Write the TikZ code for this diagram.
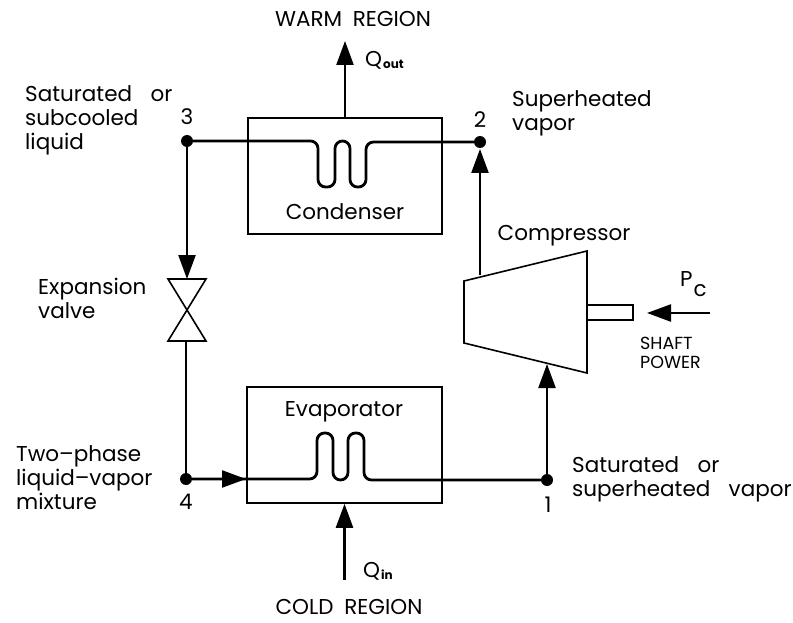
\documentclass[tikz,border=0pt]{standalone}
\usepackage{fontspec}
\setmainfont{Poppins}[WordSpace=3.2]
\usetikzlibrary{arrows.meta, positioning}

\begin{document}
\begin{tikzpicture}[x=1pt, y=-1pt, font=\fontsize{21.5}{24}\selectfont]

  % Define styles
  \tikzset{
    unitbox/.style={draw=black, line width=1.6pt, fill=white},
    pipe/.style={draw=black, line width=2.8pt, rounded corners=7.5pt},
    thinpipe/.style={draw=black, line width=2.4pt},
    flow/.style={-{Triangle[length=24pt,width=17pt]}, draw=black, line width=2.4pt},
    statepoint/.style={circle, fill=black, inner sep=0pt, minimum size=12pt},
    note/.style={align=left, anchor=north west, inner sep=0pt},
    title/.style={inner sep=0pt, anchor=center}
  }

  \useasboundingbox (0,0) rectangle (793,623);
  \fill[white] (0,0) rectangle (793,623);

  %% Boxes
  \node[unitbox, minimum width=194pt, minimum height=116pt, inner sep=0pt] (condbox) at (345,176) {};
  \node[unitbox, minimum width=195pt, minimum height=116pt, inner sep=0pt] (evapbox) at (344.5,445) {};

  %% State points
  \node[statepoint] (pt3) at (187,141) {};
  \node[statepoint] (pt2) at (480,142) {};
  \node[statepoint] (pt4) at (186,479) {};
  \node[statepoint] (pt1) at (547,480) {};

  %% Compressor
  \draw[unitbox] (464,281) -- (587,251) -- (587,373) -- (464,343) -- cycle;
  \draw[unitbox] (587,305) rectangle (633,320);
  \coordinate (compIn) at (547,364);
  \coordinate (compOut) at (480,275);

  %% Valve
  \draw[unitbox] (168,279) -- (206,279) -- (168,341) -- (206,341) -- cycle;
  \coordinate (valveTop) at (187,279);
  \coordinate (valveBot) at (186,341);

  %% Condenser coil
  \draw[pipe] (pt3) -- (318,141) -- (318,187) -- (335,187) -- (335,141)
    -- (350,141) -- (350,187) -- (366,187) -- (366,142) -- (pt2);

  %% Evaporator coil
  \draw[pipe] (pt4) -- (317,479) -- (317,433) -- (333,433) -- (333,480)
    -- (348,480) -- (348,433) -- (364,433) -- (364,480) -- (pt1);

  %% Flow arrows
  \draw[flow] (pt3) -- (valveTop);
  \draw[thinpipe] (valveBot) -- (pt4);
  \draw[flow] (compOut) -- (480,149);
  \draw[flow] (pt1) -- (compIn);
  \draw[flow] (pt4) -- (246,479);
  \draw[flow] (condbox.north) -- (345,41);

  \coordinate (qinStart) at (344.5,580);
  \draw[flow] (qinStart) -- (evapbox.south);
  \coordinate (pcStart) at (710,313);
  \draw[flow] (pcStart) -- (647,313);

  %% Labels
  \node[title] (warm) at (353,19) {WARM\hspace{0.5em}REGION};
  \node[title] (cold) at (349,607) {COLD\hspace{0.5em}REGION};
  \node[title, anchor=west] (qout) at (365,60) {Q\raisebox{-2pt}{\kern1pt\fontsize{12}{12}\selectfont\bfseries out}};
  \node[title, anchor=west] (qin) at (363,571) {Q\raisebox{-2pt}{\kern1pt\fontsize{12}{12}\selectfont\bfseries in}};
  \node[title] (cond) at (345,212) {Condenser};
  \node[title] (evap) at (344,412) {Evaporator};
  \node[title] (comp) at (564,236) {Compressor};
  \node[title, anchor=west] (pc) at (680,284) {P\raisebox{-10pt}{\kern1pt c}};
  \node[note, font=\fontsize{17.5}{19}\selectfont] (shaft) at (640,337) {SHAFT\\POWER};

  \node[title] (lab3) at (187,117) {3};
  \node[title] (lab2) at (480,120) {2};
  \node[title] (lab4) at (186,502) {4};
  \node[title] (lab1) at (548,505) {1};

  \node[note] (note3) at (25,85) {Saturated or\\subcooled\\liquid};
  \node[note] (note2) at (512,90) {Superheated\\vapor};
  \node[note] (notev) at (38,278) {Expansion\\valve};
  \node[note] (note4) at (16,445) {Two--phase\\liquid--vapor\\mixture};
  \node[note] (note1) at (572,456) {Saturated or\\superheated vapor};

\end{tikzpicture}
\end{document}
